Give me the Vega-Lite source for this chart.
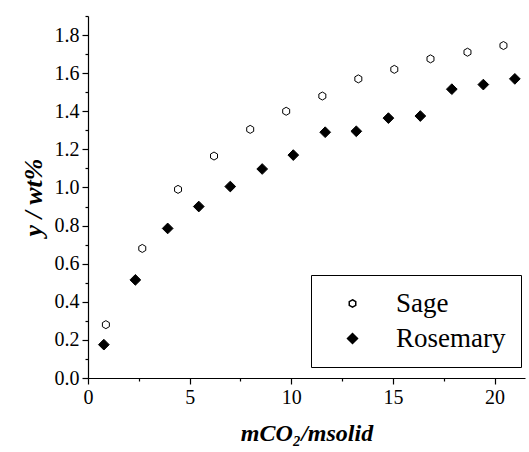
{
  "$schema": "https://vega.github.io/schema/vega-lite/v6.json",
  "autosize": "none",
  "width": 437,
  "height": 362,
  "padding": {"left": 88, "top": 16, "right": 4, "bottom": 74},
  "background": "white",
  "config": {"view": {"stroke": null}, "font": "Liberation Serif"},
  "data": {
    "values": [
      {"ratio": 0.88, "y": 0.28, "herb": "Sage"},
      {"ratio": 2.67, "y": 0.68, "herb": "Sage"},
      {"ratio": 4.43, "y": 0.99, "herb": "Sage"},
      {"ratio": 6.2, "y": 1.165, "herb": "Sage"},
      {"ratio": 7.98, "y": 1.305, "herb": "Sage"},
      {"ratio": 9.75, "y": 1.40, "herb": "Sage"},
      {"ratio": 11.53, "y": 1.48, "herb": "Sage"},
      {"ratio": 13.3, "y": 1.57, "herb": "Sage"},
      {"ratio": 15.07, "y": 1.62, "herb": "Sage"},
      {"ratio": 16.85, "y": 1.675, "herb": "Sage"},
      {"ratio": 18.67, "y": 1.71, "herb": "Sage"},
      {"ratio": 20.44, "y": 1.745, "herb": "Sage"},
      {"ratio": 0.78, "y": 0.175, "herb": "Rosemary"},
      {"ratio": 2.33, "y": 0.515, "herb": "Rosemary"},
      {"ratio": 3.92, "y": 0.785, "herb": "Rosemary"},
      {"ratio": 5.45, "y": 0.9, "herb": "Rosemary"},
      {"ratio": 7.0, "y": 1.005, "herb": "Rosemary"},
      {"ratio": 8.57, "y": 1.097, "herb": "Rosemary"},
      {"ratio": 10.1, "y": 1.17, "herb": "Rosemary"},
      {"ratio": 11.67, "y": 1.29, "herb": "Rosemary"},
      {"ratio": 13.2, "y": 1.295, "herb": "Rosemary"},
      {"ratio": 14.78, "y": 1.364, "herb": "Rosemary"},
      {"ratio": 16.35, "y": 1.375, "herb": "Rosemary"},
      {"ratio": 17.9, "y": 1.516, "herb": "Rosemary"},
      {"ratio": 19.45, "y": 1.54, "herb": "Rosemary"},
      {"ratio": 21.0, "y": 1.57, "herb": "Rosemary"}
    ]
  },
  "mark": {"type": "point", "filled": true, "stroke": "black", "strokeWidth": 1, "opacity": 1, "size": 115},
  "encoding": {
    "x": {
      "field": "ratio",
      "type": "quantitative",
      "scale": {"domain": [0, 21.5], "nice": false, "zero": false},
      "axis": {
        "title": "mCO₂/msolid",
        "titleFont": "Liberation Serif",
        "titleFontStyle": "italic",
        "titleFontWeight": "bold",
        "titleFontSize": 24,
        "titlePadding": 14,
        "values": [0, 2.5, 5, 7.5, 10, 12.5, 15, 17.5, 20],
        "labelExpr": "datum.value % 5 === 0 ? datum.label : ''",
        "format": "d",
        "grid": false,
        "domainColor": "black",
        "domainWidth": 1.2,
        "tickColor": "black",
        "tickWidth": 1.2,
        "tickSize": {"condition": {"test": "datum.value % 5 === 0", "value": 6}, "value": 3},
        "labelFont": "Liberation Serif",
        "labelFontSize": 20,
        "labelColor": "black",
        "labelPadding": 3,
        "labelFlush": false
      }
    },
    "y": {
      "field": "y",
      "type": "quantitative",
      "scale": {"domain": [0, 1.9], "nice": false},
      "axis": {
        "title": "y / wt%",
        "titleFont": "Liberation Serif",
        "titleFontStyle": "italic",
        "titleFontWeight": "bold",
        "titleFontSize": 26,
        "titlePadding": 8,
        "values": [0, 0.1, 0.2, 0.3, 0.4, 0.5, 0.6, 0.7, 0.8, 0.9, 1.0, 1.1, 1.2, 1.3, 1.4, 1.5, 1.6, 1.7, 1.8, 1.9],
        "labelExpr": "round(datum.value * 10) % 2 === 0 ? format(datum.value, '.1f') : ''",
        "grid": false,
        "domainColor": "black",
        "domainWidth": 1.2,
        "tickColor": "black",
        "tickWidth": 1.2,
        "tickSize": {"condition": {"test": "round(datum.value * 10) % 2 === 0", "value": 6}, "value": 3},
        "labelFont": "Liberation Serif",
        "labelFontSize": 20,
        "labelColor": "black",
        "labelPadding": 3,
        "labelFlush": false
      }
    },
    "shape": {
      "field": "herb",
      "type": "nominal",
      "scale": {"domain": ["Sage", "Rosemary"], "range": ["M0,-0.75L0.65,-0.375L0.65,0.375L0,0.75L-0.65,0.375L-0.65,-0.375Z", "diamond"]},
      "legend": {
        "title": null,
        "orient": "none",
        "legendX": 223,
        "legendY": 259,
        "strokeColor": "black",
        "padding": 15,
        "symbolOffset": 13,
        "labelOffset": 30,
        "labelFont": "Liberation Serif",
        "labelFontSize": 27,
        "labelColor": "black",
        "rowPadding": 7,
        "labelLimit": 300
      }
    },
    "fill": {
      "field": "herb",
      "type": "nominal",
      "scale": {"domain": ["Sage", "Rosemary"], "range": ["white", "black"]}
    }
  }
}
